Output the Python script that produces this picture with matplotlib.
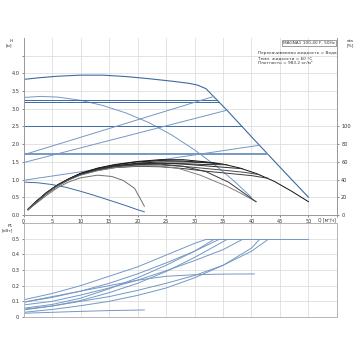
import numpy as np
import matplotlib
matplotlib.use('Agg')
import matplotlib.pyplot as plt

# ---- head curves, H [m] vs Q [m3/h] ----
max_q = [0, 3, 6, 10, 14, 18, 22, 26, 29, 30.5, 32, 35.75, 40, 45, 50]
max_h = [3.83, 3.88, 3.92, 3.95, 3.95, 3.91, 3.85, 3.78, 3.72, 3.67, 3.57, 2.95, 2.21, 1.35, 0.5]

spd_q = [0, 3, 6, 10, 14, 18, 22, 26, 30, 34, 37, 40]
spd_h = [3.32, 3.35, 3.33, 3.24, 3.09, 2.88, 2.61, 2.26, 1.84, 1.36, 0.95, 0.5]

min_q = [0, 2.5, 5, 7.5, 10, 12.5, 15, 17.5, 20, 21.2]
min_h = [0.93, 0.91, 0.86, 0.78, 0.67, 0.55, 0.42, 0.29, 0.15, 0.09]

# constant pressure lines: (H, Q where it meets max curve)
cp_h = [3.24, 3.19, 2.5, 1.72, 1.76]
cp_end = [34.0, 34.3, 38.4, 42.9, 42.7]

# proportional pressure lines: start (Q=0) and end point
pp_q = [[0, 33.4], [0, 35.7], [0, 41.4]]
pp_h = [[1.70, 3.35], [1.48, 2.96], [0.98, 1.97]]

# ---- efficiency curves, eta [%] ----
e_max_q = [0.8, 2, 4, 6, 8, 10, 13, 16, 20, 24, 28, 32, 35, 38, 41, 44, 47, 50]
e_max = [6.5, 14, 25, 34, 41, 47, 53, 57, 60.5, 62.5, 62.5, 60, 57.5, 53, 46.5, 38, 27, 15]

e_cp32_q = [0.8, 2, 4, 6, 8, 10, 13, 16, 20, 24, 28, 32, 34.2]
e_cp32 = [6.5, 14, 25, 34, 41, 47, 52.5, 56.5, 60, 61.5, 61, 59, 58.2]

e_cp25_q = [0.8, 2, 4, 6, 8, 10, 13, 16, 20, 24, 28, 32, 35, 38.4]
e_cp25 = [6, 13.5, 24.5, 33.5, 40.5, 46, 52, 55.5, 58, 58.5, 57.5, 55.5, 54, 52.3]

e_cp17_q = [0.8, 2, 4, 6, 8, 10, 13, 16, 20, 24, 28, 32, 36, 40, 42.9]
e_cp17 = [6, 13, 24, 33, 40, 45.5, 50.5, 53.5, 55, 54.5, 52.5, 49.5, 47, 44.5, 41.5]

e_ppa_q = [0.8, 2, 4, 6, 8, 10, 13, 16, 20, 24, 28, 32, 33.4]
e_ppa = [6.5, 14, 25, 34, 41, 46.5, 52, 55.5, 58.5, 60, 60, 59.5, 59]

e_ppb_q = [0.8, 2, 4, 6, 8, 10, 13, 16, 20, 24, 28, 32, 35.7]
e_ppb = [6, 13.5, 24.5, 33.5, 40.5, 46, 51.5, 55, 57.5, 58.5, 58, 57, 56.8]

e_ppc_q = [0.8, 2, 4, 6, 8, 10, 13, 16, 20, 24, 28, 32, 36, 39, 41.4]
e_ppc = [6, 13, 24, 33, 40, 45.5, 51, 54.5, 56.5, 56.5, 55, 52.5, 50, 48, 45.5]

e_spd_q = [0.8, 2, 4, 6, 8, 10, 13, 16, 20, 24, 27, 31, 35.5, 38, 40.8]
e_spd = [6, 13.5, 24.5, 33, 40, 45, 50, 53.5, 55.5, 55, 53, 45, 33, 25, 15]

e_spd2_q = [0.8, 2, 4, 6, 8, 10, 13, 16, 20, 24, 28, 32, 36, 40.8]
e_spd2 = [6.5, 14, 25, 34, 40.5, 46, 51.5, 55, 57, 57.5, 55, 49, 37, 15]

e_min_q = [0.8, 2, 4, 6, 8, 10, 13, 15.5, 17.5, 19.5, 21.2]
e_min = [6, 12, 22, 31, 37.5, 42, 45, 43.5, 39, 30, 10]

# ---- power P1 [kW] ----
p_max_q = [0, 5, 10, 15, 20, 25, 30, 32, 50]
p_max = [0.11, 0.15, 0.2, 0.26, 0.32, 0.395, 0.47, 0.495, 0.495]
p_cp32_q = [0, 5, 10, 15, 20, 25, 30, 34.3]
p_cp32 = [0.094, 0.125, 0.165, 0.215, 0.275, 0.345, 0.42, 0.495]
p_ppa_q = [0, 5, 10, 15, 20, 25, 30, 33.4]
p_ppa = [0.056, 0.08, 0.12, 0.18, 0.25, 0.33, 0.42, 0.495]
p_cp25_q = [0, 5, 10, 15, 20, 25, 30, 35, 38.4]
p_cp25 = [0.077, 0.1, 0.14, 0.185, 0.235, 0.295, 0.36, 0.43, 0.495]
p_ppb_q = [0, 5, 10, 15, 20, 25, 30, 35.7]
p_ppb = [0.045, 0.07, 0.105, 0.155, 0.215, 0.29, 0.38, 0.495]
p_cp17_q = [0, 5, 10, 15, 20, 25, 30, 35, 40, 42.9]
p_cp17 = [0.05, 0.07, 0.1, 0.13, 0.17, 0.215, 0.265, 0.33, 0.42, 0.495]
p_ppc_q = [0, 5, 10, 15, 20, 25, 30, 35, 40, 41.4]
p_ppc = [0.03, 0.048, 0.072, 0.1, 0.138, 0.185, 0.25, 0.33, 0.44, 0.495]
p_spd_q = [0, 5, 10, 15, 20, 25, 30, 35, 40.5]
p_spd = [0.095, 0.13, 0.165, 0.2, 0.235, 0.26, 0.27, 0.274, 0.275]
p_min_q = [0, 5, 10, 15, 21.2]
p_min = [0.024, 0.03, 0.036, 0.041, 0.045]

BLUE = '#3d6aa3'
BLUE_L = '#7398c4'
FS = 3.6
TXT = '#333333'
GRID = '#dedede'
SPINE = '#9a9a9a'

fig = plt.figure(figsize=(3.6, 3.6), dpi=100)
ax = fig.add_axes([0.0653, 0.4028, 0.8708, 0.4917])
ax2 = ax.twinx()
axp = fig.add_axes([0.0653, 0.1194, 0.8708, 0.2611])

# top panel
ax.set_xlim(0, 55)
ax.set_ylim(0, 5.0)
ax2.set_ylim(0, 200)
ax.set_xticks(range(0, 56, 5))
ax.set_xticklabels([str(v) for v in range(0, 51, 5)] + [''])
ax.set_yticks(np.arange(0, 4.51, 0.5))
ax.set_yticklabels(['%.1f' % v for v in np.arange(0, 4.01, 0.5)] + [''])
ax2.set_yticks(range(0, 101, 20))
ax.grid(True, color=GRID, lw=0.6)
ax.set_axisbelow(True)
for a in (ax, ax2):
    a.spines['top'].set_visible(False)
    for s in ('left', 'right', 'bottom'):
        a.spines[s].set_color(SPINE)
        a.spines[s].set_linewidth(0.7)
    a.tick_params(labelsize=FS, colors=TXT, length=1.5, width=0.4, pad=1.5)

ax.plot(max_q, max_h, color=BLUE, lw=0.8)
ax.plot(spd_q, spd_h, color=BLUE_L, lw=0.7)
ax.plot(min_q, min_h, color=BLUE, lw=0.7)
for h, e in zip(cp_h, cp_end):
    ax.plot([0, e], [h, h], color=BLUE if h > 2 else BLUE_L, lw=0.7)
for q, h in zip(pp_q, pp_h):
    ax.plot(q, h, color=BLUE_L, lw=0.7)

for q, e, c in [(e_max_q, e_max, '#111111'), (e_cp32_q, e_cp32, '#1a1a1a'),
                (e_cp25_q, e_cp25, '#2a2a2a'), (e_cp17_q, e_cp17, '#3a3a3a'),
                (e_ppa_q, e_ppa, '#222222'), (e_ppb_q, e_ppb, '#303030'),
                (e_ppc_q, e_ppc, '#4a4a4a'), (e_spd_q, e_spd, '#808080'),
                (e_spd2_q, e_spd2, '#3a3a3a'), (e_min_q, e_min, '#707070')]:
    ax2.plot(q, e, color=c, lw=0.7)

ax.text(-0.035, 0.995, 'H\n[м]', transform=ax.transAxes, fontsize=FS * 0.85,
        color=TXT, ha='right', va='top', linespacing=1.2)
ax2.text(1.03, 0.995, 'eta\n[%]', transform=ax2.transAxes, fontsize=FS * 0.85,
         color=TXT, ha='left', va='top', linespacing=1.2)
ax.annotate('Q [м³/ч]', xy=(51.6, 0), xycoords=('data', 'axes fraction'),
            xytext=(0, -1.5), textcoords='offset points', fontsize=FS * 0.9,
            color=TXT, ha='left', va='top')
ax.text(0.993, 0.985, 'MAGNA1 100-40 F, 50Hz', transform=ax.transAxes,
        fontsize=FS * 0.85, color=TXT, ha='right', va='top',
        bbox=dict(boxstyle='square,pad=0.25', fc='white', ec='#555555', lw=0.4))
ax.text(0.748, 0.925, 'Перекачиваемая жидкость = Вода\nТемп. жидкости = 60 °C\n'
        'Плотность = 983.2 кг/м³', transform=ax.transAxes, fontsize=FS * 0.85,
        color=TXT, ha='left', va='top', linespacing=1.25)

# bottom panel
axp.set_xlim(0, 55)
axp.set_ylim(0, 0.6)
axp.set_xticks(range(0, 56, 5))
axp.set_xticklabels([])
axp.set_yticks(np.arange(0, 0.61, 0.1))
axp.set_yticklabels(['0', '0.1', '0.2', '0.3', '0.4', '0.5', ''])
axp.grid(True, color=GRID, lw=0.6)
axp.set_axisbelow(True)
for s in axp.spines.values():
    s.set_color('#b5b5b5')
    s.set_linewidth(0.7)
axp.tick_params(labelsize=FS, colors=TXT, length=1.5, width=0.4, pad=1.5)
axp.tick_params(axis='x', length=0)
axp.text(-0.035, 0.99, 'P1\n[кВт]', transform=axp.transAxes, fontsize=FS * 0.85,
         color=TXT, ha='right', va='top', linespacing=1.2)

for q, p in [(p_max_q, p_max), (p_cp32_q, p_cp32), (p_ppa_q, p_ppa),
             (p_cp25_q, p_cp25), (p_ppb_q, p_ppb), (p_cp17_q, p_cp17),
             (p_ppc_q, p_ppc), (p_spd_q, p_spd), (p_min_q, p_min)]:
    axp.plot(q, p, color=BLUE_L, lw=0.7)

fig.savefig('out.png', dpi=100)
